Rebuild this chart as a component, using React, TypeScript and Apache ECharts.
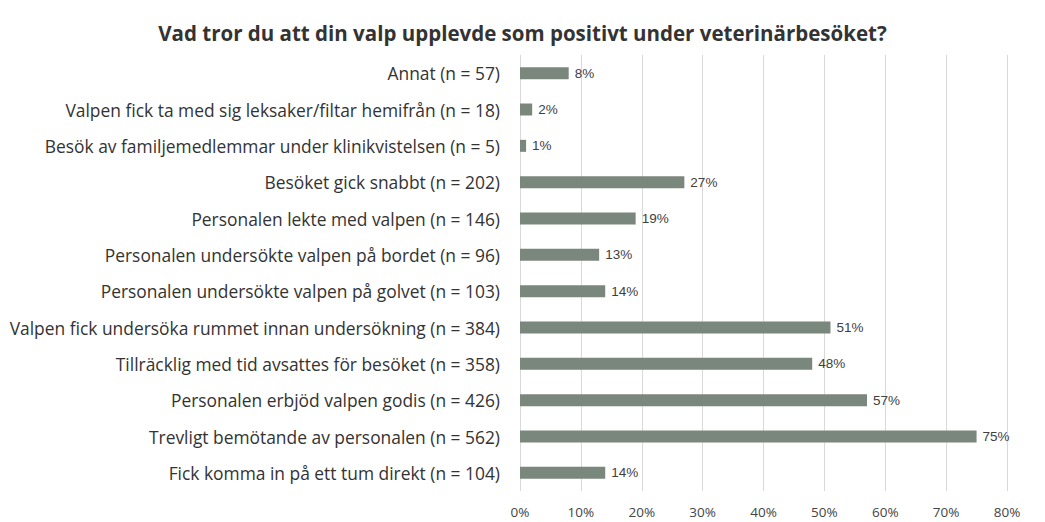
import React, { useEffect, useRef } from "react";
import * as echarts from "echarts";

const title = "Vad tror du att din valp upplevde som positivt under veterinärbesöket?";
const categories = [
  "Annat (n = 57)",
  "Valpen fick ta med sig leksaker/filtar hemifrån (n = 18)",
  "Besök av familjemedlemmar under klinikvistelsen (n = 5)",
  "Besöket gick snabbt (n = 202)",
  "Personalen lekte med valpen (n = 146)",
  "Personalen undersökte valpen på bordet (n = 96)",
  "Personalen undersökte valpen på golvet (n = 103)",
  "Valpen fick undersöka rummet innan undersökning (n = 384)",
  "Tillräcklig med tid avsattes för besöket (n = 358)",
  "Personalen erbjöd valpen godis (n = 426)",
  "Trevligt bemötande av personalen (n = 562)",
  "Fick komma in på ett tum direkt (n = 104)",
];
const values = [8, 2, 1, 27, 19, 13, 14, 51, 48, 57, 75, 14];

export default function App() {
  const ref = useRef<HTMLDivElement>(null);
  useEffect(() => {
    if (!ref.current) return;
    const chart = echarts.init(ref.current, undefined, { renderer: "svg" });
    chart.setOption({
      animation: false,
      backgroundColor: "#ffffff",
      title: {
        text: title,
        left: "center",
        top: 17,
        textStyle: {
          fontFamily: "Open Sans",
          fontWeight: "bold",
          fontSize: 20.5,
          color: "#333333",
        },
      },
      grid: { left: 520, right: 38, top: 55, bottom: 31, containLabel: false },
      xAxis: {
        type: "value",
        min: 0,
        max: 80,
        interval: 10,
        axisLine: { show: false },
        axisTick: { show: false },
        splitLine: { show: true, lineStyle: { color: "#d9d9d9", width: 1 } },
        axisLabel: {
          formatter: "{value}%",
          margin: 14,
          fontFamily: "Open Sans",
          fontSize: 13.5,
          lineHeight: 14,
          color: "#444444",
        },
      },
      yAxis: {
        type: "category",
        inverse: true,
        data: categories,
        axisLine: { show: false },
        axisTick: { show: false },
        axisLabel: {
          margin: 20,
          fontFamily: "Open Sans",
          fontSize: 17.4,
          color: "#333333",
        },
      },
      series: [
        {
          type: "bar",
          data: values,
          barWidth: 12,
          itemStyle: { color: "#7a877d" },
          label: {
            show: true,
            position: "right",
            distance: 6,
            formatter: "{c}%",
            fontFamily: "Liberation Sans",
            fontSize: 13.5,
            color: "#404040",
          },
        },
      ],
    });
    return () => chart.dispose();
  }, []);
  return (
    <div
      ref={ref}
      style={{ position: "absolute", left: 0, top: 0, width: 1045, height: 522 }}
    />
  );
}
